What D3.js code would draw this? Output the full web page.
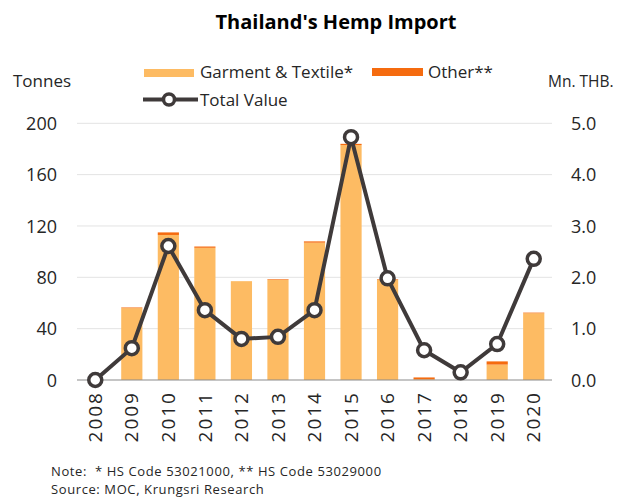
<!DOCTYPE html>
<html>
<head>
<meta charset="utf-8">
<script src="https://cdn.jsdelivr.net/npm/d3@7"></script>
<style>
  body { margin: 0; background: #fff; }
  svg text { font-family: "Open Sans", "Noto Sans", sans-serif; fill: #262626; }
</style>
</head>
<body>
<div id="chart"></div>
<script>
var years = ["2008", "2009", "2010", "2011", "2012", "2013", "2014", "2015", "2016", "2017", "2018", "2019", "2020"];
var garment = [0, 56, 113, 103, 77, 78, 107, 183, 78, 0.5, 0, 12, 52];
var other = [0, 0.5, 2, 1, 0, 0.5, 1, 1, 0.5, 1.5, 0, 2.5, 0.5];
var totalValue = [0.0, 0.62, 2.61, 1.36, 0.80, 0.84, 1.36, 4.73, 1.98, 0.58, 0.15, 0.70, 2.36];
var leftTicks = [0, 40, 80, 120, 160, 200];
var rightTicks = [0, 1, 2, 3, 4, 5];

var cfg = {
    width: 619,
    height: 499,
    left: 77,
    right: 552,
    top: 123.3,
    bottom: 380,
    garmentColor: "#fdbb63",
    otherColor: "#f56b0f",
    lineColor: "#3f3a3a",
};

var svg = d3.select("#chart").append("svg")
    .attr("width", cfg.width)
    .attr("height", cfg.height);

var x = d3.scaleBand().domain(years).range([cfg.left, cfg.right]).paddingInner(0.42).paddingOuter(0.21);
var yL = d3.scaleLinear().domain([0, 200]).range([cfg.bottom, cfg.top]);
var yR = d3.scaleLinear().domain([0, 5]).range([cfg.bottom, cfg.top]);

// title
svg.append("text")
    .attr("x", 336)
    .attr("y", 29)
    .attr("text-anchor", "middle")
    .style("font-size", "20px")
    .style("font-weight", "bold")
    .style("fill", "#000")
    .text("Thailand's Hemp Import");

// gridlines
svg.append("g").selectAll("line")
    .data(leftTicks.slice(1))
    .join("line")
    .attr("x1", cfg.left)
    .attr("x2", cfg.right)
    .attr("y1", d => yL(d))
    .attr("y2", d => yL(d))
    .attr("stroke", "#e3e3e3")
    .attr("stroke-width", 1);

// left axis
var leftAxis = svg.append("g")
    .attr("transform", `translate(${cfg.left - 20},0)`)
    .call(d3.axisLeft(yL).tickValues(leftTicks).tickSize(0).tickPadding(0));
leftAxis.select(".domain").remove();
leftAxis.selectAll("text").style("font-size", "18px").attr("dy", "0.35em");

// right axis
var rightAxis = svg.append("g")
    .attr("transform", `translate(${cfg.right + 19},0)`)
    .call(d3.axisRight(yR).tickValues(rightTicks).tickFormat(d3.format(".1f")).tickSize(0).tickPadding(0));
rightAxis.select(".domain").remove();
rightAxis.selectAll("text").style("font-size", "18px").attr("dy", "0.35em");

// axis titles
svg.append("text").attr("x", 13).attr("y", 87).style("font-size", "17px").text("Tonnes");
svg.append("text").attr("x", 548).attr("y", 87).style("font-size", "15.5px").text("Mn. THB.");

// stacked bars
var stackData = years.map((yr, i) => ({ year: yr, garment: garment[i], other: other[i] }));
var stack = d3.stack().keys(["garment", "other"])(stackData);
var colors = { garment: cfg.garmentColor, other: cfg.otherColor };

svg.append("g").selectAll("g")
    .data(stack)
    .join("g")
    .attr("fill", d => colors[d.key])
    .selectAll("rect")
    .data(d => d)
    .join("rect")
    .attr("x", d => x(d.data.year))
    .attr("width", x.bandwidth())
    .attr("y", d => yL(d[1]))
    .attr("height", d => yL(d[0]) - yL(d[1]));

// baseline
svg.append("line")
    .attr("x1", cfg.left)
    .attr("x2", cfg.right)
    .attr("y1", cfg.bottom)
    .attr("y2", cfg.bottom)
    .attr("stroke", "#8c8c8c")
    .attr("stroke-width", 1.2);

// x axis labels, rotated
var xAxis = svg.append("g")
    .attr("transform", `translate(0,${cfg.bottom})`)
    .call(d3.axisBottom(x).tickSize(0).tickPadding(0));
xAxis.select(".domain").remove();
xAxis.selectAll("text")
    .style("font-size", "19px")
    .style("letter-spacing", "2px")
    .attr("text-anchor", "end")
    .attr("transform", "rotate(-90)")
    .attr("x", -11)
    .attr("y", 0)
    .attr("dy", "0.35em");

// line
var line = d3.line()
    .x((d, i) => x(years[i]) + x.bandwidth() / 2)
    .y(d => yR(d));

svg.append("path")
    .datum(totalValue)
    .attr("fill", "none")
    .attr("stroke", cfg.lineColor)
    .attr("stroke-width", 4)
    .attr("d", line);

svg.append("g").selectAll("circle")
    .data(totalValue)
    .join("circle")
    .attr("cx", (d, i) => x(years[i]) + x.bandwidth() / 2)
    .attr("cy", d => yR(d))
    .attr("r", 6.5)
    .attr("fill", "#fff")
    .attr("stroke", cfg.lineColor)
    .attr("stroke-width", 3.5);

// legend
var legend = svg.append("g").style("font-size", "17px");
legend.append("rect").attr("x", 144).attr("y", 69).attr("width", 50).attr("height", 8).attr("fill", cfg.garmentColor);
legend.append("text").attr("x", 200).attr("y", 78).text("Garment & Textile*");
legend.append("rect").attr("x", 372).attr("y", 68).attr("width", 51).attr("height", 8).attr("fill", cfg.otherColor);
legend.append("text").attr("x", 428).attr("y", 78).text("Other**");
legend.append("line").attr("x1", 143).attr("x2", 198).attr("y1", 99.5).attr("y2", 99.5)
    .attr("stroke", cfg.lineColor).attr("stroke-width", 4);
legend.append("circle").attr("cx", 169).attr("cy", 99.5).attr("r", 5.5)
    .attr("fill", "#fff").attr("stroke", cfg.lineColor).attr("stroke-width", 3.5);
legend.append("text").attr("x", 200).attr("y", 106).text("Total Value");

// notes (nbsp keeps the double space after "Note:")
var notes = svg.append("g").style("font-size", "13px").style("letter-spacing", "0.6px");
notes.append("text").attr("x", 51).attr("y", 476).text("Note:\u00a0 * HS Code 53021000, ** HS Code 53029000");
notes.append("text").attr("x", 51).attr("y", 494).text("Source: MOC, Krungsri Research");
</script>
</body>
</html>
